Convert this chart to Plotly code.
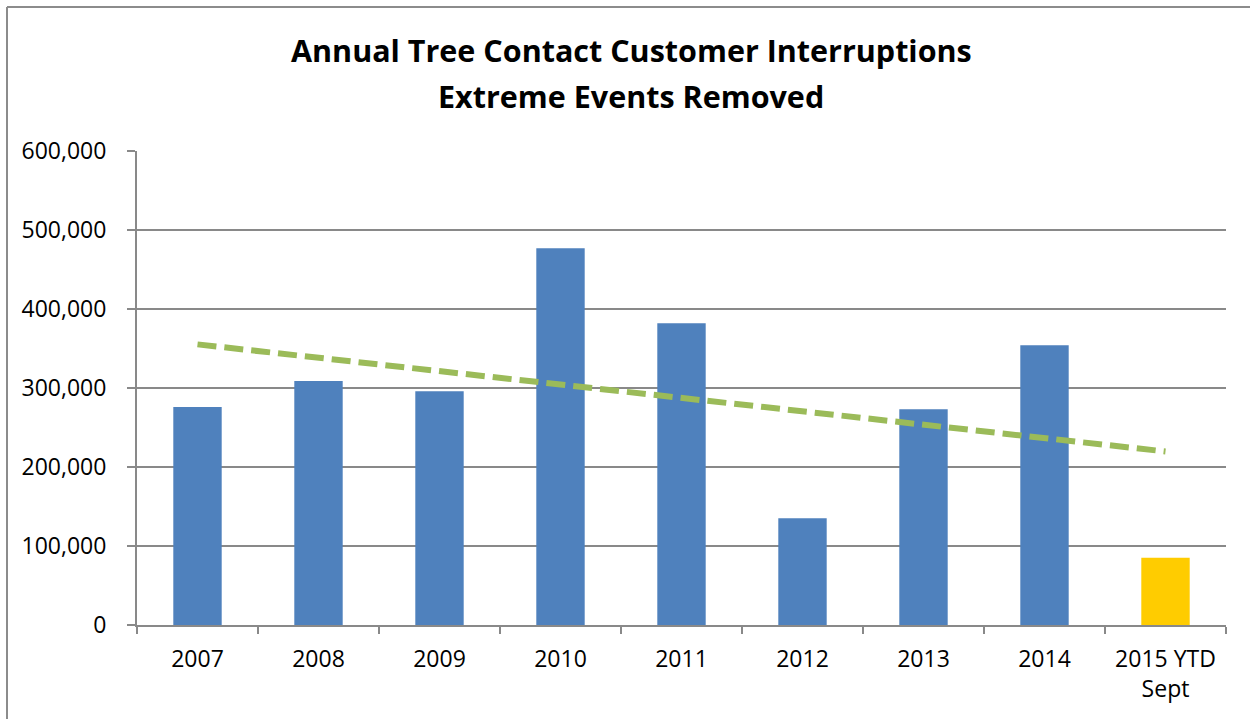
import numpy as np
import plotly.graph_objects as go

# Annual tree-contact customer interruptions (extreme events removed)
categories = ["2007", "2008", "2009", "2010", "2011", "2012", "2013", "2014", "2015 YTD<br>Sept"]
interruptions = [276000, 309000, 296000, 477000, 382000, 135000, 273000, 354000, 85000]
bar_colors = ["#4F81BD"] * 8 + ["#FFCC00"]

y_ticks = [0, 100000, 200000, 300000, 400000, 500000, 600000]
title_lines = ["Annual Tree Contact Customer Interruptions", "Extreme Events Removed"]

# Linear trendline fitted to the annual values
idx = np.arange(len(interruptions))
slope, intercept = np.polyfit(idx, interruptions, 1)
trend = slope * idx + intercept

FONT = "Open Sans"
GRID = "#898989"

fig = go.Figure()
fig.add_trace(go.Bar(
    x=categories, y=interruptions,
    marker=dict(color=bar_colors, line=dict(width=0)),
    width=0.4, showlegend=False,
))
fig.add_trace(go.Scatter(
    x=categories, y=trend, mode="lines",
    line=dict(color="#9BBB59", width=6, dash="19px,8px"),
    showlegend=False,
))

W, H = 1250, 719
ml, mr, mt, mb = 137, 24, 151, 94
pw, ph = W - ml - mr, H - mt - mb

# two-line title, each line placed on its own
title_annots = [
    dict(
        text=f"<b>{line}</b>",
        xref="paper", yref="paper", x=(631 - ml) / pw, y=(H - mb - yc) / ph,
        xanchor="center", yanchor="middle", showarrow=False,
        font=dict(family=FONT, size=30.5, color="#000000"),
    )
    for line, yc in zip(title_lines, [50, 96])
]

fig.update_layout(
    width=W, height=H,
    margin=dict(l=ml, r=mr, t=mt, b=mb),
    paper_bgcolor="white", plot_bgcolor="white",
    font=dict(family=FONT, color="#000000", size=23),
    bargap=0.6,
    xaxis=dict(
        type="category", showgrid=False,
        showline=True, linecolor=GRID, linewidth=2,
        ticks="outside", tickson="boundaries", ticklen=7, tickcolor=GRID, tickwidth=2,
        tickfont=dict(size=23), ticklabelstandoff=12, range=[-0.5, 8.5],
    ),
    yaxis=dict(
        range=[0, 600000], tickvals=y_ticks,
        tickformat=",d",
        showgrid=True, gridcolor=GRID, gridwidth=2,
        showline=True, linecolor=GRID, linewidth=2,
        ticks="outside", ticklen=8, tickcolor=GRID, tickwidth=2,
        tickfont=dict(size=23), ticklabelstandoff=16, zeroline=False,
    ),
    annotations=title_annots,
    shapes=[
        # chart-area frame (left and top edges)
        dict(type="line", xref="paper", yref="paper",
             x0=(7 - ml) / pw, x1=(7 - ml) / pw, y0=(H - mb - 7) / ph, y1=-0.5,
             line=dict(color="#8C8C8C", width=2)),
        dict(type="line", xref="paper", yref="paper",
             x0=(7 - ml) / pw, x1=1.2, y0=(H - mb - 7) / ph, y1=(H - mb - 7) / ph,
             line=dict(color="#8C8C8C", width=2)),
    ],
)

fig.write_html("out.html")
